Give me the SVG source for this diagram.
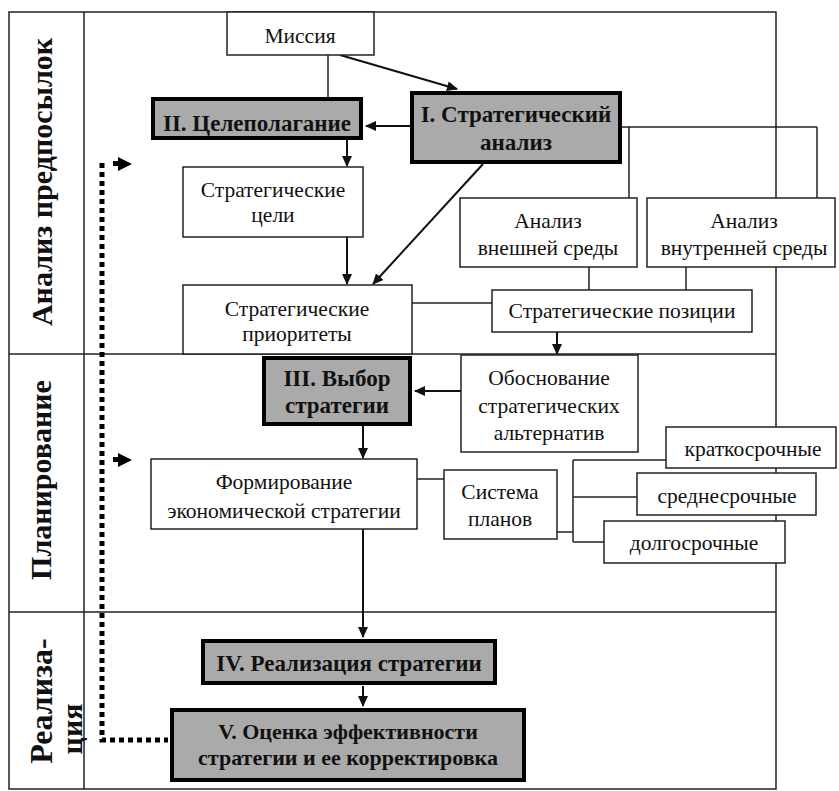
<svg xmlns="http://www.w3.org/2000/svg" width="839" height="791" viewBox="0 0 839 791">
<style>
  .frame { fill: none; stroke: #222; stroke-width: 1.5; }
  .box { fill: #fff; stroke: #222; stroke-width: 1.5; }
  .key { fill: #aaaaaa; stroke: #000; stroke-width: 4; }
  .t { font-family: "Liberation Serif", "Times New Roman", serif; font-size: 21.5px; fill: #111; text-anchor: middle; }
  .b { font-weight: bold; font-size: 23px; }
  .side { font-family: "Liberation Serif", "Times New Roman", serif; font-size: 30px; font-weight: bold; fill: #111; text-anchor: middle; }
  .ln { fill: none; stroke: #222; stroke-width: 1.5; }
  .ar { fill: none; stroke: #111; stroke-width: 2; marker-end: url(#ah); }
  .dot { fill: none; stroke: #000; stroke-width: 5; stroke-dasharray: 5 4; }
</style>
<defs>
  <marker id="ah" markerUnits="userSpaceOnUse" markerWidth="11" markerHeight="10" refX="10" refY="5" orient="auto">
    <path d="M0,0 L11,5 L0,10 Z" fill="#111"/>
  </marker>
</defs>
<rect width="839" height="791" fill="#fff"/>

<g id="frame">
  <path class="frame" d="M9,12 H776 V789 H9 Z"/>
  <path class="frame" d="M84,12 V789"/>
  <path class="frame" d="M9,354 H776"/>
  <path class="frame" d="M9,612 H776"/>
  <text class="side" x="52" y="182" transform="rotate(-90 52 182)">Анализ предпосылок</text>
  <text class="side" x="51" y="480" transform="rotate(-90 51 480)">Планирование</text>
  <text class="side" x="52" y="701" transform="rotate(-90 52 701)" style="font-size:32px">Реализа-</text>
  <text class="side" x="82" y="729" transform="rotate(-90 82 729)">ция</text>
</g>

<g id="connectors">
  <path class="ln" d="M328,55 V97"/>
  <path class="ar" d="M340,55 L457,89"/>
  <path class="ar" d="M410,126 H366"/>
  <path class="ar" d="M347,140 V166"/>
  <path class="ar" d="M347,237 V284"/>
  <path class="ar" d="M483,164 L373,284"/>
  <path class="ln" d="M622,127 H817 M629,127 V198 M817,127 V198"/>
  <path class="ln" d="M589,267 V290 M686,267 V290"/>
  <path class="ln" d="M412,303 H492"/>
  <path class="ar" d="M557,332 V354"/>
  <path class="ar" d="M461,391 H415"/>
  <path class="ar" d="M363,426 V458"/>
  <path class="ln" d="M417,479 H444"/>
  <path class="ln" d="M557,532 H573 M573,460 V542 M573,460 H666 M573,497 H637 M573,542 H604"/>
  <path class="ar" d="M363,529 V637"/>
  <path class="ar" d="M363,686 V706"/>
  <path class="dot" d="M102,163 V740 H168"/>
  <path d="M113,161 H118 V166 H113 Z M118,157 L132,164 L118,171 Z" fill="#000"/>
  <path d="M113,457 H118 V462 H113 Z M118,453 L132,460 L118,467 Z" fill="#000"/>
</g>

<g id="mission">
  <rect class="box" x="227" y="12" width="147" height="43"/>
  <text class="t" x="300" y="43">Миссия</text>
</g>
<g id="goal-setting">
  <rect class="key" x="153" y="99" width="208" height="39"/>
  <text class="t b" x="257" y="131">II. Целеполагание</text>
</g>
<g id="strategic-analysis">
  <rect class="key" x="412" y="93" width="208" height="69"/>
  <text class="t b" x="516" y="122">I. Стратегический</text>
  <text class="t b" x="516" y="150">анализ</text>
</g>
<g id="strategic-goals">
  <rect class="box" x="183" y="167" width="180" height="70"/>
  <text class="t" x="273" y="197">Стратегические</text>
  <text class="t" x="273" y="222">цели</text>
</g>
<g id="external-analysis">
  <rect class="box" x="460" y="198" width="177" height="69"/>
  <text class="t" x="548" y="228">Анализ</text>
  <text class="t" x="548" y="255">внешней среды</text>
</g>
<g id="internal-analysis">
  <rect class="box" x="647" y="198" width="188" height="69"/>
  <text class="t" x="744" y="228">Анализ</text>
  <text class="t" x="744" y="255">внутренней среды</text>
</g>
<g id="strategic-priorities">
  <rect class="box" x="183" y="285" width="229" height="69"/>
  <text class="t" x="297" y="316">Стратегические</text>
  <text class="t" x="297" y="341">приоритеты</text>
</g>
<g id="strategic-positions">
  <rect class="box" x="492" y="290" width="260" height="42"/>
  <text class="t" x="622" y="318">Стратегические позиции</text>
</g>
<g id="alternatives">
  <rect class="box" x="461" y="355" width="177" height="97"/>
  <text class="t" x="549" y="385">Обоснование</text>
  <text class="t" x="549" y="413">стратегических</text>
  <text class="t" x="549" y="440">альтернатив</text>
</g>
<g id="strategy-choice">
  <rect class="key" x="264" y="358" width="146" height="66"/>
  <text class="t b" x="337" y="386">III. Выбор</text>
  <text class="t b" x="337" y="413">стратегии</text>
</g>
<g id="strategy-formation">
  <rect class="box" x="151" y="459" width="266" height="70"/>
  <text class="t" x="284" y="489">Формирование</text>
  <text class="t" x="284" y="518">экономической стратегии</text>
</g>
<g id="plan-system">
  <rect class="box" x="444" y="470" width="113" height="69"/>
  <text class="t" x="500" y="499">Система</text>
  <text class="t" x="500" y="526">планов</text>
</g>
<g id="short-term">
  <rect class="box" x="666" y="427" width="170" height="41"/>
  <text class="t" x="753" y="456">краткосрочные</text>
</g>
<g id="mid-term">
  <rect class="box" x="637" y="473" width="179" height="42"/>
  <text class="t" x="727" y="503">среднесрочные</text>
</g>
<g id="long-term">
  <rect class="box" x="604" y="521" width="181" height="42"/>
  <text class="t" x="694" y="550">долгосрочные</text>
</g>
<g id="implementation">
  <rect class="key" x="203" y="641" width="292" height="42"/>
  <text class="t b" x="349" y="671">IV. Реализация стратегии</text>
</g>
<g id="evaluation">
  <rect class="key" x="172" y="710" width="352" height="70"/>
  <text class="t b" x="348" y="739" style="font-size:22px">V. Оценка эффективности</text>
  <text class="t b" x="348" y="765" style="font-size:22px">стратегии и ее корректировка</text>
</g>
</svg>
